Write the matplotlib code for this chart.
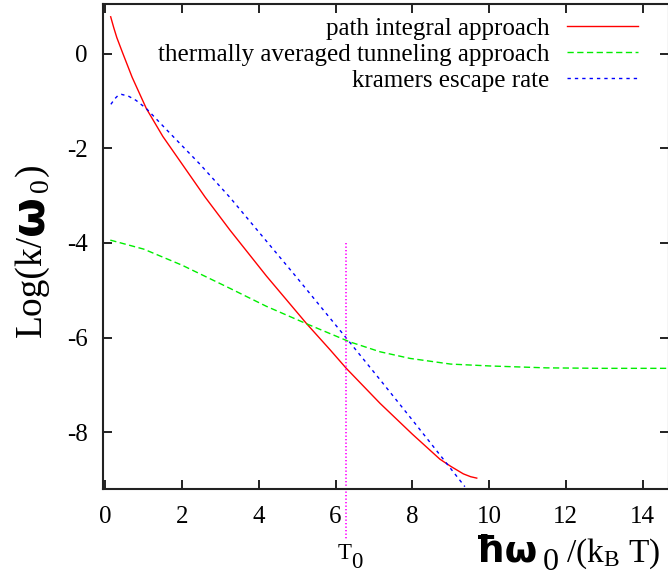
import matplotlib
matplotlib.use('Agg')
import matplotlib.pyplot as plt
import numpy as np

plt.rcParams.update({
    'font.family': 'Liberation Serif',
    'mathtext.fontset': 'custom',
    'mathtext.rm': 'Liberation Serif',
    'mathtext.it': 'Liberation Serif',
    'mathtext.bf': 'Liberation Serif:bold',
    'axes.unicode_minus': False,
})

# rate curves, log(k/w0) against hbar*w0/(kB T)
x_path = [0.14, 0.22, 0.30, 0.45, 0.70, 1.07, 1.50, 1.99, 2.60, 3.25, 4.20, 5.25,
          5.86, 6.28, 7.16, 8.00, 8.72, 9.00, 9.33, 9.52, 9.68]
y_path = [0.78, 0.55, 0.34, 0.02, -0.50, -1.16, -1.75, -2.32, -3.03, -3.73, -4.70, -5.71,
          -6.26, -6.65, -7.39, -8.04, -8.57, -8.72, -8.88, -8.94, -8.97]

x_tunnel = [0.13, 1.0, 2.0, 3.25, 4.2, 5.25, 6.37, 7.16, 7.94, 9.0, 10.03, 11.5, 13.0, 15.0]
y_tunnel = [-3.94, -4.13, -4.47, -4.96, -5.34, -5.71, -6.09, -6.30, -6.44, -6.56, -6.60, -6.64,
            -6.65, -6.65]

x_kramers = [0.145, 0.25, 0.33, 0.42, 0.6, 0.8, 1.07, 1.6, 2.46, 3.25, 3.94, 4.99, 6.25,
             7.16, 8.0, 8.77, 9.37]
y_kramers = [-1.07, -0.95, -0.885, -0.86, -0.896, -0.986, -1.16, -1.61, -2.33, -3.04, -3.71,
             -4.73, -5.98, -6.89, -7.74, -8.53, -9.15]

labels = ['path integral approach', 'thermally averaged tunneling approach',
          'kramers escape rate']

T0 = 2 * np.pi      # crossover temperature
x_ticks = [0, 2, 4, 6, 8, 10, 12, 14]
y_ticks = [-8, -6, -4, -2, 0]

fig = plt.figure(figsize=(6.68, 5.76), dpi=100)
ax = fig.add_axes([103 / 668, 87 / 576, 566 / 668, 485 / 576])

ax.plot(x_path, y_path, color='#ff0000', lw=1.0, label=labels[0])
ax.plot(x_tunnel, y_tunnel, color='#00ee00', lw=1.0, dashes=(4.5, 2.5), label=labels[1])
ax.plot(x_kramers, y_kramers, color='#0000ff', lw=1.0, dashes=(2.4, 2.9), label=labels[2])

# T0 marker reaching below the axis
ax.plot([T0, T0], [-4.0, -10.25], color='#ff00ff', lw=1.2, dashes=(0.8, 1.3), clip_on=False)
t0a = ax.text(T0 - 0.05, -10.35, 'T', ha='center', va='top', fontsize=16.5)
ax.annotate('0', xy=(1, 0), xycoords=t0a, xytext=(0, -6), textcoords='offset points',
            ha='left', va='bottom', fontsize=16.5)

ax.set_xlim(-0.06, 14.69)
ax.set_ylim(-9.2, 1.05)
ax.set_xticks(x_ticks)
ax.set_yticks(y_ticks)
ax.tick_params(direction='in', length=6.5, width=1.4, labelsize=18,
               top=True, right=True, colors='#222222', labelcolor='black')
ax.tick_params(axis='x', pad=12)
ax.tick_params(axis='y', pad=11)
for s in ax.spines.values():
    s.set_linewidth(1.5)
    s.set_color('#222222')

ax.legend(loc='upper right', bbox_to_anchor=(0.945, 0.973), frameon=False,
          markerfirst=False, fontsize=18, handlelength=2.85, handletextpad=0.68,
          labelspacing=0.15, borderpad=0, borderaxespad=0)

# axis labels built from pieces of different sizes
sym = dict(family='DejaVu Sans', weight='bold')

xl1 = fig.text(475 / 668, 0.025, '\u0127\u03c9', fontsize=27, ha='left', va='baseline', **sym)
xl2 = ax.annotate('0', xy=(1, 0.0104), xycoords=(xl1, 'figure fraction'),
                  xytext=(4, 0), textcoords='offset points', fontsize=23,
                  ha='left', va='baseline')
ax.annotate(r'/(k$_\mathrm{B}$ T)', xy=(1, 0.025), xycoords=(xl2, 'figure fraction'),
            xytext=(5, 0), textcoords='offset points', fontsize=24,
            ha='left', va='baseline')

yl1 = fig.text(41 / 668, (576 - 337) / 576, 'Log(k/', fontsize=27, rotation=90,
               rotation_mode='anchor', ha='left', va='baseline')
yl2 = ax.annotate('\u03c9', xy=(43 / 668, 1), xycoords=('figure fraction', yl1),
                  fontsize=33, rotation=90, rotation_mode='anchor',
                  ha='left', va='baseline', **sym)
yl3 = ax.annotate('0', xy=(48 / 668, 1), xycoords=('figure fraction', yl2),
                  xytext=(0, 2), textcoords='offset points',
                  fontsize=20, rotation=90, rotation_mode='anchor',
                  ha='left', va='baseline')
ax.annotate(')', xy=(41 / 668, 1), xycoords=('figure fraction', yl3),
            xytext=(0, 2), textcoords='offset points',
            fontsize=27, rotation=90, rotation_mode='anchor',
            ha='left', va='baseline')

fig.savefig('out.png', dpi=100)
